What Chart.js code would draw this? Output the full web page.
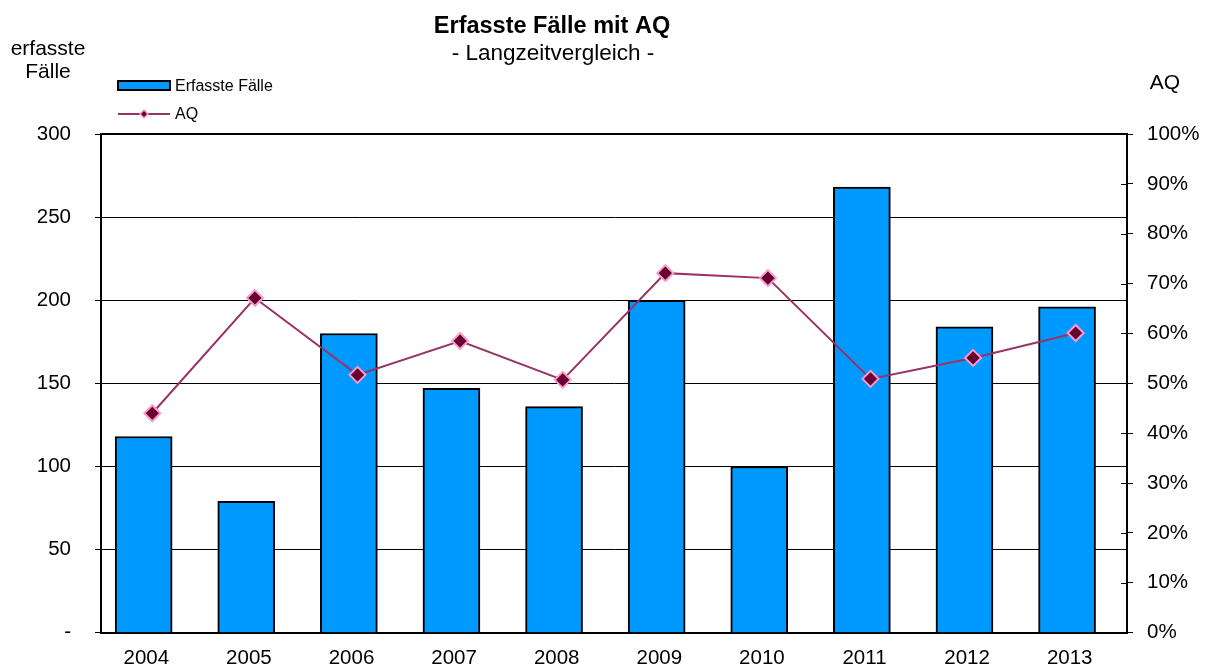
<!DOCTYPE html>
<html>
<head>
<meta charset="utf-8">
<script src="https://cdn.jsdelivr.net/npm/chart.js@4"></script>
<style>
  html, body { margin:0; padding:0; background:#fff; }
</style>
</head>
<body>
<canvas id="c" width="1210" height="669"></canvas>
<script>
const years = ['2004','2005','2006','2007','2008','2009','2010','2011','2012','2013'];
const faelle = [118, 79, 180, 147, 136, 200, 100, 268, 184, 196];
const aq = [44.0, 67.1, 51.7, 58.5, 50.7, 72.1, 71.1, 50.9, 55.1, 60.1];

const FONT = "'Liberation Sans', Arial, sans-serif";
// bars sit a bit left of the category centre, like in the original
// (includes the half-bar that Chart.js adds on the hidden linear axis)
const BAR_SHIFT = 0.362;

// titles, axis captions, legend and the inward ticks on the right axis
const extras = {
  id: 'extras',
  afterDraw(chart) {
    const c = chart.ctx;
    c.save();
    c.fillStyle = '#000';
    c.textAlign = 'center';
    c.textBaseline = 'alphabetic';
    c.font = 'bold 23.5px ' + FONT;
    c.fillText('Erfasste Fälle mit AQ', 552, 33);
    c.font = '22.5px ' + FONT;
    c.fillText('- Langzeitvergleich -', 553, 60);
    c.font = '21px ' + FONT;
    c.fillText('erfasste', 48, 55);
    c.fillText('Fälle', 48, 78);
    c.fillText('AQ', 1165, 89);

    // legend
    c.fillStyle = '#0099FF';
    c.strokeStyle = '#000';
    c.lineWidth = 2;
    c.fillRect(118, 81, 52, 9);
    c.strokeRect(118, 81, 52, 9);
    c.strokeStyle = '#993366';
    c.beginPath(); c.moveTo(118, 114); c.lineTo(170, 114); c.stroke();
    c.fillStyle = '#660033';
    c.strokeStyle = '#FF99CC';
    c.lineWidth = 1.5;
    c.beginPath();
    c.moveTo(144, 110); c.lineTo(148, 114); c.lineTo(144, 118); c.lineTo(140, 114); c.closePath();
    c.fill(); c.stroke();
    c.fillStyle = '#000';
    c.textAlign = 'left';
    c.font = '16px ' + FONT;
    c.fillText('Erfasste Fälle', 175, 91);
    c.fillText('AQ', 175, 119);

    // inward tick marks on right axis
    const s = chart.scales.y1;
    const x = chart.chartArea.right;
    c.strokeStyle = '#000';
    c.lineWidth = 1;
    s.ticks.forEach(t => {
      const y = Math.round(s.getPixelForValue(t.value)) + 0.5;
      c.beginPath(); c.moveTo(x - 6, y); c.lineTo(x, y); c.stroke();
    });
    c.restore();
  }
};

new Chart(document.getElementById('c'), {
  data: {
    labels: years,
    datasets: [
      {
        type: 'line', label: 'AQ', data: aq, xAxisID: 'x', yAxisID: 'y1',
        borderColor: '#993366', borderWidth: 2,
        pointStyle: 'rectRot', pointRadius: 8,
        pointBackgroundColor: '#660033', pointBorderColor: '#FF99CC', pointBorderWidth: 2,
        tension: 0, order: 0
      },
      {
        type: 'bar', label: 'Erfasste Fälle',
        data: faelle.map((v, i) => ({ x: i, y: v })),
        xAxisID: 'xb', yAxisID: 'y',
        backgroundColor: '#0099FF', borderColor: '#000', borderWidth: 2,
        barThickness: 57, order: 1
      }
    ]
  },
  options: {
    responsive: false,
    animation: false,
    layout: { padding: { top: 134, left: 0, right: 0, bottom: 0 } },
    plugins: { legend: { display: false }, title: { display: false }, tooltip: { enabled: false } },
    scales: {
      x: {
        type: 'category', offset: true,
        grid: { display: false },
        border: { color: '#000', width: 2 },
        ticks: { color: '#000', font: { family: FONT, size: 20.5 }, padding: 5, labelOffset: -6 },
        afterFit: s => { s.height = 36; }
      },
      xb: {
        type: 'linear', display: false, offset: false, bounds: 'data',
        grid: { offset: false },
        min: -0.5 + BAR_SHIFT, max: years.length - 0.5 + BAR_SHIFT
      },
      y: {
        position: 'left', min: 0, max: 300,
        grid: { color: '#000', lineWidth: 1, tickLength: 6, drawTicks: true },
        border: { color: '#000', width: 2 },
        ticks: {
          stepSize: 50, color: '#000', padding: 24,
          font: { family: FONT, size: 20.5 },
          callback: v => v === 0 ? '-' : v
        },
        afterFit: s => { s.width = 101; }
      },
      y1: {
        position: 'right', min: 0, max: 100,
        grid: { drawOnChartArea: false, color: '#000', tickLength: 6 },
        border: { color: '#000', width: 2 },
        ticks: {
          stepSize: 10, color: '#000', padding: 14,
          font: { family: FONT, size: 20.5 },
          callback: v => v + '%'
        },
        afterFit: s => { s.width = 83; }
      }
    }
  },
  plugins: [extras, {
    id: 'topBorder',
    afterDatasetsDraw(chart) {
      const a = chart.chartArea, c = chart.ctx;
      c.save();
      c.strokeStyle = '#000'; c.lineWidth = 2;
      c.beginPath(); c.moveTo(a.left, a.top); c.lineTo(a.right, a.top); c.stroke();
      c.restore();
    }
  }]
});
</script>
</body>
</html>
